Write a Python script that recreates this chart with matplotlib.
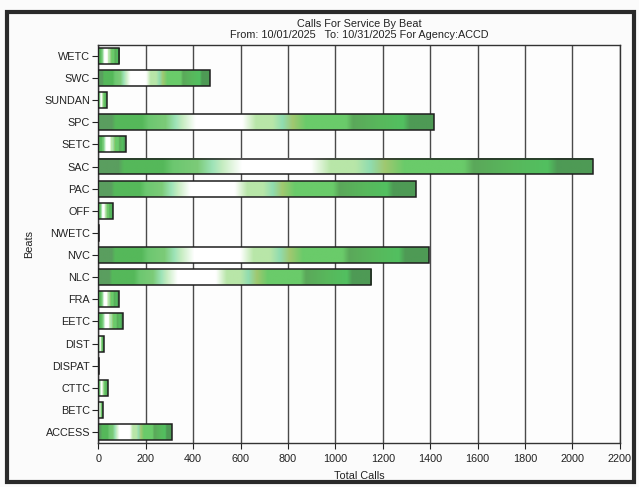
import numpy as np
import matplotlib
matplotlib.use("Agg")
from matplotlib import pyplot as plt
from matplotlib.colors import LinearSegmentedColormap
from matplotlib.patches import Rectangle

beats = ["WETC", "SWC", "SUNDAN", "SPC", "SETC", "SAC", "PAC", "OFF", "NWETC",
         "NVC", "NLC", "FRA", "EETC", "DIST", "DISPAT", "CTTC", "BETC", "ACCESS"]
total_calls = [89, 471, 37, 1416, 117, 2085, 1340, 60, 4,
               1395, 1152, 87, 105, 24, 3, 40, 21, 311]
x_ticks = [0, 200, 400, 600, 800, 1000, 1200, 1400, 1600, 1800, 2000, 2200]

title = "Calls For Service By Beat\nFrom: 10/01/2025   To: 10/31/2025 For Agency:ACCD"

# green "texture" that each bar is filled with, stretched to the bar length
bar_stops = [
    (0.00, "#5a9e5f"), (0.04, "#5a9e5f"), (0.05, "#55b85a"), (0.13, "#55b85a"),
    (0.15, "#6cc770"), (0.20, "#7ccb78"), (0.23, "#9de3b8"), (0.25, "#c5ecc0"),
    (0.29, "#ffffff"), (0.43, "#ffffff"), (0.47, "#b8e6a8"), (0.52, "#b8e6a8"),
    (0.55, "#90dcb0"), (0.58, "#a0c870"), (0.62, "#6acb6a"), (0.74, "#6acb6a"),
    (0.76, "#5ba85a"), (0.84, "#58b85c"), (0.91, "#52c060"), (0.93, "#4e9a55"),
    (1.00, "#4e9a55"),
]
bar_cmap = LinearSegmentedColormap.from_list("bars", bar_stops)

plt.rcParams['font.family'] = ['Liberation Sans', 'DejaVu Sans']
text_col = "#222222"
fs = 7.8

fig = plt.figure(figsize=(6.39, 4.87), dpi=100)
fig.patch.set_facecolor("#fbfbfb")
ax = fig.add_axes([0.154, 0.090, 0.816, 0.818])
ax.set_facecolor("#fdfdfd")

# outer frame of the printed page
fig.patches.append(Rectangle((0.011, 0.010), 0.981, 0.966, transform=fig.transFigure,
                             fill=False, edgecolor="#2a2a2a", linewidth=3.0))

ypos = np.arange(len(beats))
bar_h = 0.72
grad = np.linspace(0, 1, 256).reshape(1, -1)
for y, v in zip(ypos, total_calls):
    ax.imshow(grad, cmap=bar_cmap, aspect="auto", interpolation="bilinear",
              extent=(0, v, y + bar_h / 2, y - bar_h / 2), zorder=2)
ax.barh(ypos, total_calls, height=bar_h, fill=False, edgecolor="#1e1e1e",
        linewidth=1.1, zorder=3)

ax.set_xlim(0, 2200)
ax.set_ylim(len(beats) - 0.5, -0.5)
ax.set_xticks(x_ticks)
ax.set_yticks(ypos)
ax.set_yticklabels(beats)
ax.xaxis.grid(True, color="#4a4a4a", linewidth=1.0, zorder=1)
ax.set_axisbelow(True)
for s in ax.spines.values():
    s.set_color("#333333")
    s.set_linewidth(1.0)

ax.tick_params(axis="both", labelsize=fs, colors=text_col, length=4, width=0.8)
ax.tick_params(axis="x", pad=4)
ax.tick_params(axis="y", pad=2)

ax.set_xlabel("Total Calls", fontsize=fs, color=text_col, labelpad=5)
ax.set_ylabel("Beats", fontsize=fs, color=text_col, labelpad=7)
ax.set_title(title, fontsize=fs, color=text_col, pad=5, linespacing=1.15)

fig.savefig("out.png", dpi=100, facecolor=fig.get_facecolor())
